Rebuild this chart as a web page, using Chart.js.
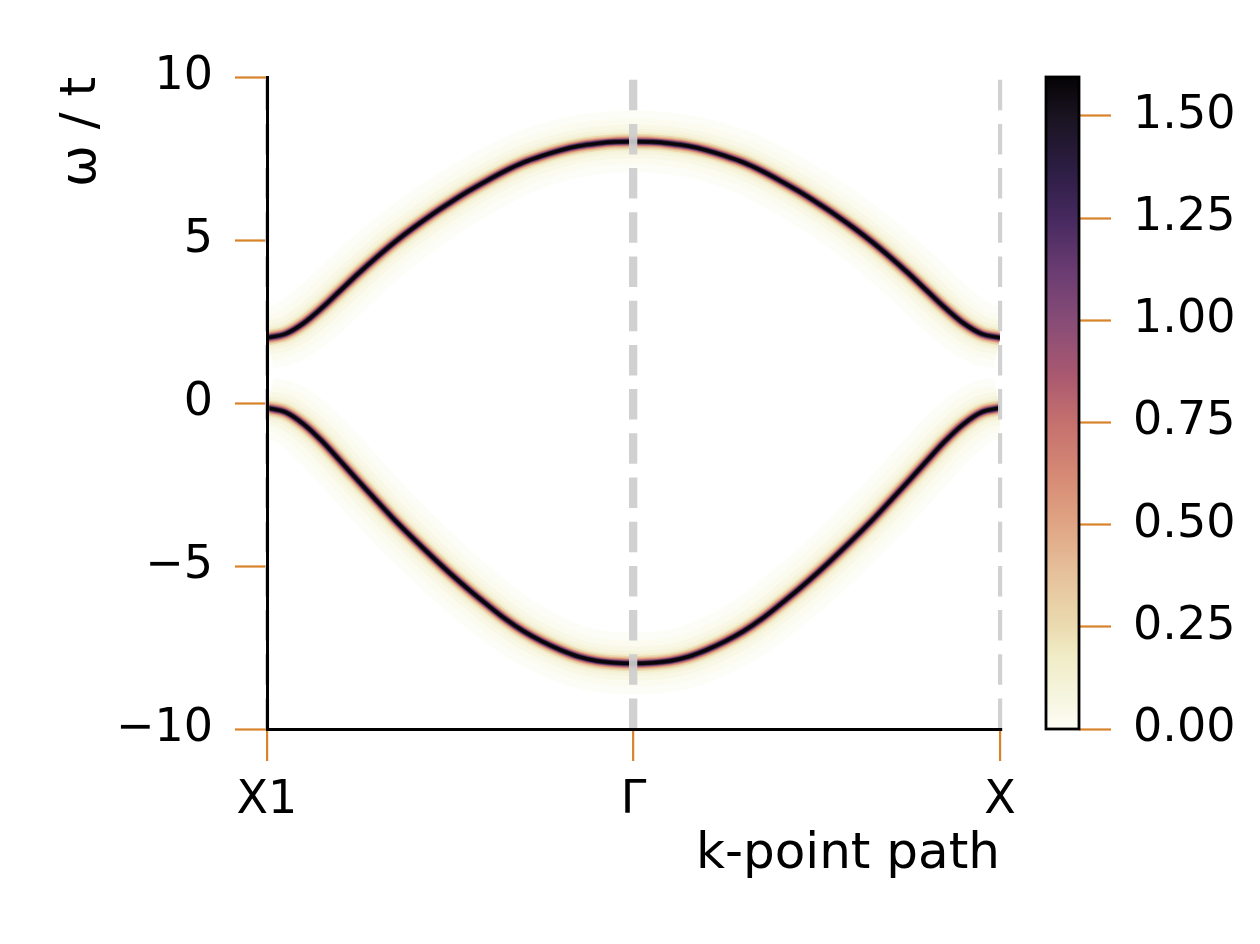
<!DOCTYPE html>
<html>
<head>
<meta charset="utf-8">
<script src="https://cdn.jsdelivr.net/npm/chart.js@4"></script>
<style>
  html, body { margin: 0; padding: 0; background: #fff; }
  #wrap { position: relative; width: 1260px; height: 944px; }
  #wrap canvas { position: absolute; left: 0; top: 0; }
</style>
</head>
<body>
<div id="wrap">
  <canvas id="bands" width="1260" height="944"></canvas>
  <canvas id="cbar" width="1260" height="944"></canvas>
</div>
<script>
// k-path coordinate (X1 = 0, Γ = 1, X = 2)
const kPath = [0, 0.05, 0.1, 0.15, 0.2, 0.25, 0.3, 0.35, 0.4, 0.45, 0.5, 0.55, 0.6, 0.65, 0.7, 0.75, 0.8, 0.85, 0.9, 0.95, 1,
               1.05, 1.1, 1.15, 1.2, 1.25, 1.3, 1.35, 1.4, 1.45, 1.5, 1.55, 1.6, 1.65, 1.7, 1.75, 1.8, 1.85, 1.9, 1.95, 2];

// band positions (ω / t)
const upperBand = [2.00, 2.12, 2.45, 2.92, 3.45, 3.98, 4.48, 4.95, 5.38, 5.78, 6.15, 6.50, 6.82, 7.12, 7.38, 7.58, 7.75, 7.88, 7.96, 8.01, 8.02,
                   8.01, 7.96, 7.88, 7.75, 7.58, 7.38, 7.12, 6.82, 6.50, 6.15, 5.78, 5.38, 4.95, 4.48, 3.98, 3.45, 2.92, 2.45, 2.12, 2.00];
const lowerBand = [-0.15, -0.28, -0.65, -1.17, -1.78, -2.40, -3.01, -3.61, -4.17, -4.71, -5.23, -5.72, -6.18, -6.62, -7.00, -7.31, -7.57, -7.78, -7.91, -7.97, -7.99,
                   -7.97, -7.91, -7.78, -7.57, -7.31, -7.00, -6.62, -6.18, -5.72, -5.23, -4.71, -4.17, -3.61, -3.01, -2.40, -1.78, -1.17, -0.65, -0.28, -0.15];

const kTicks = [0, 1, 2];
const kTickLabels = ['X1', 'Γ', 'X'];

// colorbar
const cbMax = 1.595;
const cmapStops  = [0, 0.08, 0.18, 0.25, 0.38, 0.5, 0.62, 0.75, 0.87, 1.0, 1.12, 1.25, 1.37, 1.5, 1.595];
const cmapColors = ['#fdfdf6', '#f6f5df', '#f0ecc6', '#ebdbb0', '#e6c19b', '#e0a584', '#d68a75', '#c5706e', '#a85870',
                    '#874c77', '#6a3c72', '#46295f', '#2c1d43', '#191320', '#050305'];

// line layers used to paint the broadened bands (core first)
const layerWidths = [3.2, 4.6, 5.8, 7, 8.5, 10, 12, 15, 19, 25, 34, 46, 62];
const layerColors = ['#08060b', '#2e1e40', '#6e3f6f', '#a55a6f', '#cb7a70', '#dc9c80', '#e6bd97', '#ebd7ad',
                     '#f2eece', '#f6f4dc', '#f9f8e7', '#fbfbf0', '#fdfdf7'];

const TICK_ORANGE = '#d8832a';
const TICK_FONT = { family: 'DejaVu Sans', size: 46 };
const TITLE_FONT = { family: 'DejaVu Sans', size: 50 };

const datasets = [];
layerWidths.forEach((w, i) => {
  [upperBand, lowerBand].forEach(band => {
    datasets.push({
      data: kPath.map((k, j) => ({ x: k, y: band[j] })),
      borderColor: layerColors[i],
      borderWidth: w,
      borderJoinStyle: 'round',
      pointRadius: 0,
      cubicInterpolationMode: 'monotone',
      clip: 0,
      order: i
    });
  });
});

new Chart(document.getElementById('bands'), {
  type: 'line',
  data: { datasets },
  options: {
    responsive: false,
    animation: false,
    events: [],
    layout: { padding: { left: 20, right: 260, top: 77, bottom: 58.5 } },
    plugins: { legend: { display: false }, tooltip: { enabled: false } },
    scales: {
      x: {
        type: 'linear',
        min: 0, max: 2,
        ticks: {
          stepSize: 1,
          callback: v => kTickLabels[kTicks.indexOf(v)],
          font: TICK_FONT, color: '#000', padding: 12.2, maxRotation: 0, autoSkip: false
        },
        grid: {
          drawOnChartArea: true,
          color: 'rgba(205,205,205,0.92)',
          lineWidth: c => (c.tick && c.tick.value === 1 ? 8.3 : 4.2),
          tickColor: TICK_ORANGE, tickWidth: 2.2, tickLength: 32, tickBorderDash: [],
          z: 1
        },
        border: { display: true, color: '#000', width: 3, dash: [30.5, 13.7], dashOffset: 41.5, z: 2 },
        title: { display: true, text: 'k-point path', align: 'end', font: TITLE_FONT, color: '#000', padding: { top: 0, bottom: 0 } },
        afterFit: s => { s.height = 156.5; }
      },
      y: {
        min: -10, max: 10,
        ticks: {
          stepSize: 5,
          callback: v => (v < 0 ? '\u2212' + (-v) : String(v)),
          font: TICK_FONT, color: '#000', padding: 22
        },
        grid: { drawOnChartArea: false, tickColor: TICK_ORANGE, tickWidth: 2.2, tickLength: 32 },
        border: { display: true, color: '#000', width: 3, z: 2 },
        title: { display: true, text: 'ω / t', align: 'end', font: TITLE_FONT, color: '#000', padding: { top: 32.5, bottom: 0 } },
        afterFit: s => { s.width = 247; }
      }
    }
  }
});

function cmapGradient(chart) {
  const area = chart.chartArea;
  if (!area) return cmapColors[0];
  const y = chart.scales.y;
  const g = chart.ctx.createLinearGradient(0, y.getPixelForValue(0), 0, y.getPixelForValue(cbMax));
  cmapStops.forEach((v, i) => g.addColorStop(v / cbMax, cmapColors[i]));
  return g;
}

const cbFrame = {
  id: 'cbFrame',
  afterDatasetsDraw(chart) {
    const { ctx, chartArea: a } = chart;
    ctx.save();
    ctx.strokeStyle = '#000';
    ctx.lineWidth = 2.8;
    ctx.strokeRect(a.left, a.top, a.right - a.left, a.bottom - a.top);
    ctx.restore();
  }
};

new Chart(document.getElementById('cbar'), {
  type: 'bar',
  data: {
    labels: ['A'],
    datasets: [{
      data: [cbMax],
      backgroundColor: c => cmapGradient(c.chart),
      borderWidth: 0,
      barPercentage: 1,
      categoryPercentage: 1
    }]
  },
  options: {
    responsive: false,
    animation: false,
    events: [],
    layout: { padding: { left: 1046, right: 0, top: 77, bottom: 215 } },
    plugins: { legend: { display: false }, tooltip: { enabled: false } },
    scales: {
      x: { display: false },
      y: {
        position: 'right',
        min: 0, max: cbMax,
        ticks: { stepSize: 0.25, includeBounds: false, callback: v => v.toFixed(2), font: TICK_FONT, color: '#000', padding: 22 },
        grid: { drawOnChartArea: false, tickColor: TICK_ORANGE, tickWidth: 2.2, tickLength: 32 },
        border: { display: false },
        afterFit: s => { s.width = 181; }
      }
    }
  },
  plugins: [cbFrame]
});
</script>
</body>
</html>
